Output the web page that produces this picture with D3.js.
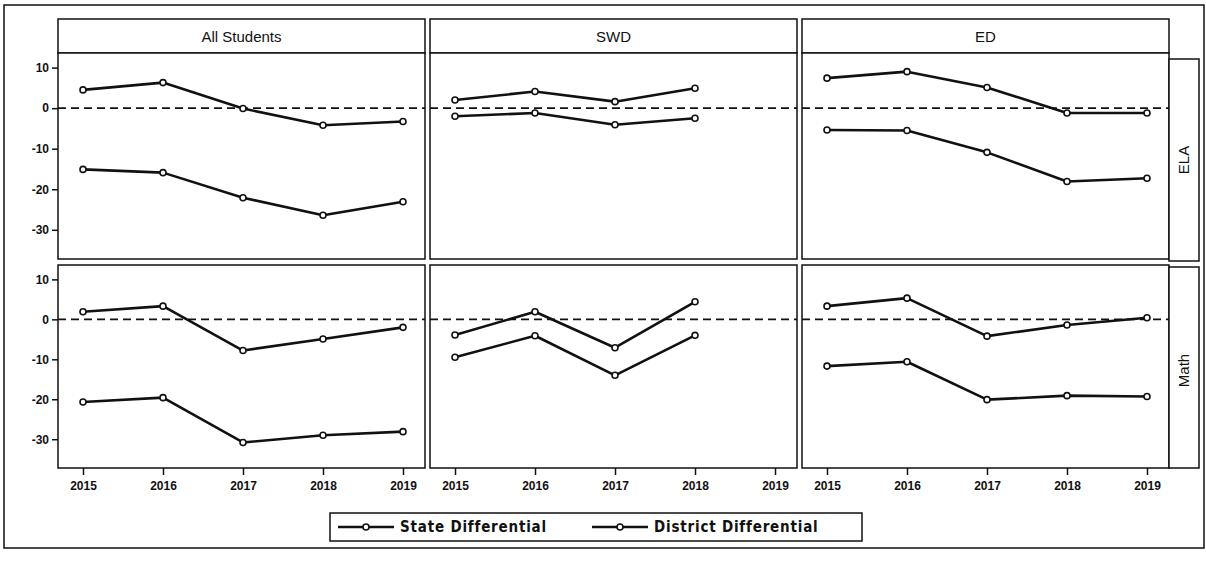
<!DOCTYPE html>
<html>
<head>
<meta charset="utf-8">
<script src="https://cdn.jsdelivr.net/npm/d3@7"></script>
<style>
  body { margin: 0; background: #fff; }
  text { fill: #111; }
</style>
</head>
<body>
<div id="chart"></div>
<script>
// data, subgroup order: All Students, SWD, ED
var years = [2015, 2016, 2017, 2018, 2019];
var subgroups = ["All Students", "SWD", "ED"];
var subjects = ["ELA", "Math"];
var yTicks = [10, 0, -10, -20, -30];
var seriesNames = ["State Differential", "District Differential"];

var stateELA = [[4.5, 6.3, -0.1, -4.2, -3.3], [2.0, 4.1, 1.6, 4.9, null], [7.4, 9.0, 5.1, -1.2, -1.2]];
var districtELA = [[-15.1, -15.9, -22.1, -26.4, -23.1], [-2.0, -1.2, -4.1, -2.5, null], [-5.4, -5.5, -10.9, -18.1, -17.3]];
var stateMath = [[1.9, 3.3, -7.8, -4.9, -2.0], [-3.9, 1.9, -7.1, 4.4, null], [3.3, 5.3, -4.2, -1.4, 0.4]];
var districtMath = [[-20.7, -19.6, -30.8, -29.0, -28.1], [-9.5, -4.1, -14.0, -4.0, null], [-11.7, -10.6, -20.1, -19.1, -19.3]];

var width = 1206, height = 563;
var colX = [58, 430, 802];
var colW = 367;
var headTop = 19, headBot = 53;
var rowY = [[53, 259], [265, 468]];
var stripW = 30;
var ink = "#111";

var svg = d3.select("#chart").append("svg")
    .attr("width", width)
    .attr("height", height)
    .style("font-family", "'Liberation Sans', Arial, sans-serif");

// outer frame
svg.append("rect")
    .attr("x", 4).attr("y", 5)
    .attr("width", 1200).attr("height", 543)
    .attr("fill", "none").attr("stroke", ink).attr("stroke-width", 1.5);

var panels = [
    { state: stateELA, district: districtELA },
    { state: stateMath, district: districtMath }
];

var line = d3.line()
    .defined(d => d.v != null);

subgroups.forEach((g, c) => {
    var x0 = colX[c];
    // header box
    svg.append("rect")
        .attr("x", x0).attr("y", headTop)
        .attr("width", colW).attr("height", headBot - headTop)
        .attr("fill", "#fff").attr("stroke", ink).attr("stroke-width", 1.5);
    svg.append("text")
        .attr("x", x0 + colW / 2).attr("y", headBot - 11)
        .attr("text-anchor", "middle")
        .style("font-size", "15px")
        .text(g);

    var xScale = d3.scaleLinear()
        .domain([2015, 2019])
        .range([x0 + 25, x0 + 345]);

    subjects.forEach((s, r) => {
        var yScale = d3.scaleLinear()
            .domain([-37.2, 13.6])
            .range([rowY[r][1], rowY[r][0]]);

        var g2 = svg.append("g");
        g2.append("rect")
            .attr("x", x0).attr("y", rowY[r][0])
            .attr("width", colW).attr("height", rowY[r][1] - rowY[r][0])
            .attr("fill", "#fff").attr("stroke", ink).attr("stroke-width", 1.5);

        // zero reference line
        g2.append("line")
            .attr("x1", x0).attr("x2", x0 + colW)
            .attr("y1", yScale(0)).attr("y2", yScale(0))
            .attr("stroke", ink).attr("stroke-width", 1.6)
            .attr("stroke-dasharray", "8,5");

        var sets = [panels[r].state[c], panels[r].district[c]];
        sets.forEach(vals => {
            var pts = years.map((y, i) => ({ x: xScale(y), y: vals[i] == null ? 0 : yScale(vals[i]), v: vals[i] }));
            g2.append("path")
                .attr("d", line.x(d => d.x).y(d => d.y)(pts))
                .attr("fill", "none")
                .attr("stroke", ink)
                .attr("stroke-width", 2.6)
                .attr("stroke-linejoin", "round");
            g2.selectAll(null)
                .data(pts.filter(d => d.v != null)).enter()
                .append("circle")
                .attr("cx", d => d.x).attr("cy", d => d.y)
                .attr("r", 3)
                .attr("fill", "#fff")
                .attr("stroke", ink)
                .attr("stroke-width", 1.6);
        });

        // y axis on first column
        if (c === 0) {
            var yAxis = d3.axisLeft(yScale).tickValues(yTicks).tickFormat(d => String(d)).tickSize(6).tickPadding(3);
            var ya = svg.append("g")
                .attr("transform", `translate(${x0},0)`)
                .call(yAxis);
            ya.select(".domain").remove();
            ya.selectAll("line").attr("stroke", ink).attr("stroke-width", 1.5);
            ya.selectAll("text")
                .style("font-size", "12px")
                .style("font-family", "'Liberation Sans Narrow', 'Liberation Sans', sans-serif")
                .style("font-weight", "bold")
                .attr("fill", ink);
        }

        // strip on the right
        if (c === 2) {
            svg.append("rect")
                .attr("x", x0 + colW).attr("y", rowY[r][0] + (r === 0 ? 6 : 2))
                .attr("width", stripW).attr("height", rowY[r][1] - rowY[r][0] - (r === 0 ? 4 : 2))
                .attr("fill", "#fff").attr("stroke", ink).attr("stroke-width", 1.5);
            var cy = (rowY[r][0] + rowY[r][1]) / 2 + 4;
            svg.append("text")
                .attr("transform", `translate(${x0 + colW + stripW / 2 + 5},${cy})rotate(-90)`)
                .attr("text-anchor", "middle")
                .style("font-size", "15px")
                .text(s);
        }
    });

    // x axis below bottom row
    var xAxis = d3.axisBottom(xScale).tickValues(years).tickFormat(d3.format("d")).tickSize(7).tickPadding(6);
    var xa = svg.append("g")
        .attr("transform", `translate(0,${rowY[1][1]})`)
        .call(xAxis);
    xa.select(".domain").remove();
    xa.selectAll("line").attr("stroke", ink).attr("stroke-width", 1.5);
    xa.selectAll("text")
        .style("font-size", "12px")
        .style("font-family", "'Liberation Sans Narrow', 'Liberation Sans', sans-serif")
        .style("font-weight", "bold")
        .attr("fill", ink);
});

// legend
var lg = svg.append("g").attr("transform", "translate(330,513)");
lg.append("rect")
    .attr("width", 532).attr("height", 28)
    .attr("fill", "#fff").attr("stroke", ink).attr("stroke-width", 1.5);
var legendX = [8, 262];
seriesNames.forEach((n, i) => {
    var lx = legendX[i];
    lg.append("line")
        .attr("x1", lx).attr("x2", lx + 56)
        .attr("y1", 14).attr("y2", 14)
        .attr("stroke", ink).attr("stroke-width", 2.6);
    lg.append("circle")
        .attr("cx", lx + 28).attr("cy", 14).attr("r", 3)
        .attr("fill", "#fff").attr("stroke", ink).attr("stroke-width", 1.6);
    lg.append("text")
        .attr("x", lx + 62).attr("y", 19)
        .style("font-family", "'DejaVu Sans Condensed', 'DejaVu Sans', sans-serif")
        .style("font-size", "15px")
        .style("font-weight", "bold")
        .style("letter-spacing", "0.8px")
        .text(n);
});
</script>
</body>
</html>
